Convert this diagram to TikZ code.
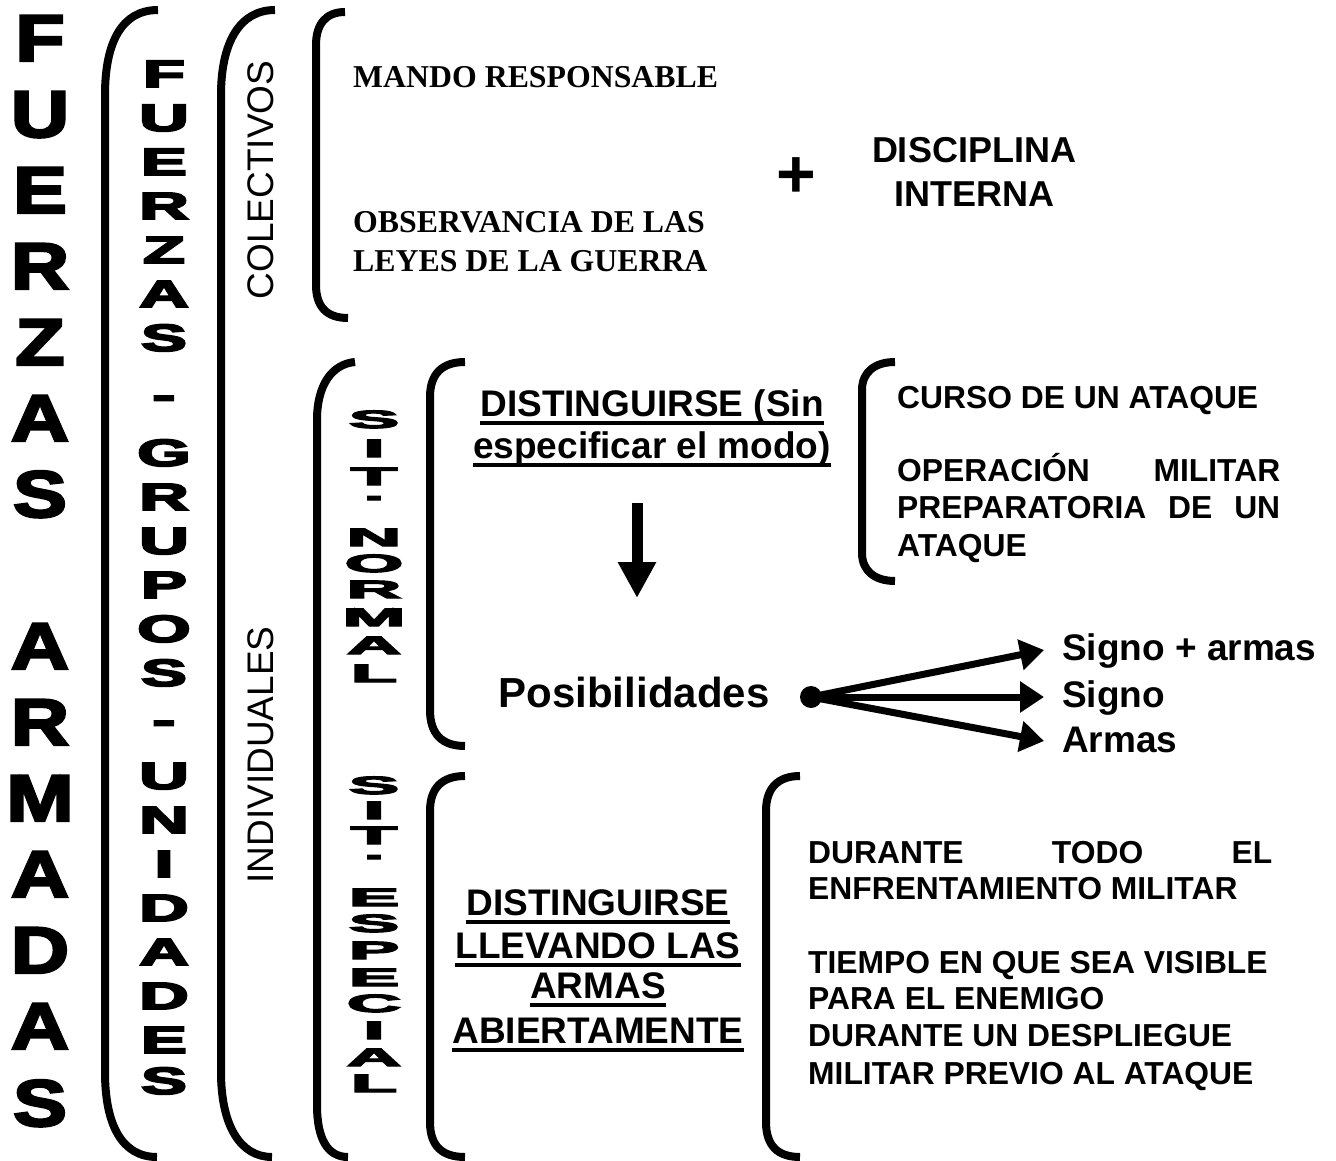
\documentclass[tikz,border=0pt]{standalone}
\usepackage{fontspec}
\setmainfont{Liberation Sans}
\newfontfamily\serifb{Liberation Serif}
\newfontfamily\heavy[FakeBold=4.5]{Liberation Sans}
\newfontfamily\heavyA[FakeBold=3.5]{Liberation Sans}
\usetikzlibrary{arrows.meta}
\newcommand\stretchL[2]{\scalebox{#1}[1]{#2}}
% T with its period set under it, in one box
\newcommand\Tdot{\ooalign{T\cr\hidewidth\smash{\raisebox{-15pt}{.}}\hidewidth\cr}}
\begin{document}
\begin{tikzpicture}[x=1pt,y=-1pt,
  brk/.style={line width=8pt},
  bigL/.style={inner sep=0pt, anchor=base, font=\heavyA\bfseries\fontsize{66}{66}\selectfont},
  midL/.style={inner sep=0pt, anchor=base, font=\heavy\bfseries\fontsize{38}{38}\selectfont},
  sitL/.style={inner sep=0pt, anchor=base, font=\heavy\bfseries\fontsize{25}{25}\selectfont},
  rot/.style={inner sep=0pt, rotate=90, font=\fontsize{37}{37}\selectfont},
  serif/.style={inner sep=0pt, anchor=base west, font=\serifb\bfseries\fontsize{31.8}{31.8}\selectfont},
  body/.style={inner sep=0pt, anchor=base west, font=\bfseries\fontsize{31.8}{31.8}\selectfont},
  big/.style={inner sep=0pt, anchor=base, font=\bfseries\fontsize{37}{37}\selectfont},
  ulin/.style={line width=4pt},
  fan/.style={line width=7pt, -{Triangle[length=24pt,width=30pt]}}
]
\path[use as bounding box, fill=white] (0,0) rectangle (1336,1161);

% brackets
\draw[brk] (158,10) .. controls (122,10) and (105,42) .. (105,95) -- (105,1072) .. controls (105,1125) and (122,1157) .. (157,1157);
\draw[brk] (275,10) .. controls (240,10) and (221,42) .. (221,95) -- (221,1072) .. controls (221,1125) and (240,1157) .. (272,1157);
\draw[brk] (345,12) .. controls (326,12) and (316,24) .. (316,45) -- (316,285) .. controls (316,306) and (326,318) .. (348,318);
\draw[brk] (355,362) .. controls (332,364) and (317,385) .. (317,420) -- (317,1105) .. controls (317,1138) and (327,1157) .. (348,1157);
\draw[brk] (465,362) .. controls (442,362) and (430,374) .. (430,397) -- (430,710) .. controls (430,734) and (442,746) .. (465,746);
\draw[brk] (465,776) .. controls (442,776) and (430,788) .. (430,811) -- (430,1122) .. controls (430,1146) and (442,1157) .. (465,1157);
\draw[brk] (895,362) .. controls (875,362) and (862,372) .. (862,390) -- (862,553) .. controls (862,571) and (875,581) .. (895,581);
\draw[brk] (800,776) .. controls (778,776) and (766,788) .. (766,811) -- (766,1122) .. controls (766,1146) and (778,1157) .. (800,1157);

% big column (baselines)
\foreach \c/\y [count=\i] in {F/61,U/137,E/213,R/289,Z/365,A/441,S/517,A/669,R/745,M/821,A/897,D/973,A/1049,S/1126}
  \node[bigL] (big\i) at (40,\y) {\stretchL{1.22}{\c}};

% second column
\foreach \c/\y [count=\i] in {F/87,U/131,E/175,R/219,Z/263,A/307,S/351,-/408,G/466,R/510,U/554,P/598,O/642,S/686,-/733,U/789,N/833,I/877,D/921,A/965,D/1009,E/1053,S/1094}
  \node[midL] (mid\i) at (164,\y) {\stretchL{1.8}{\c}};

% SIT. NORMAL
\foreach \c/\y [count=\i] in {S/428,I/457,\Tdot/485,N/546,O/572,R/598,M/626,A/654,L/682}
  \node[sitL] (sn\i) at (374,\y) {\stretchL{3}{\c}};
% SIT. ESPECIAL
\foreach \c/\y [count=\i] in {S/794,I/819,\Tdot/844,E/906,S/932,P/959,E/986,C/1012,I/1039,A/1066,L/1092}
  \node[sitL] (se\i) at (374,\y) {\stretchL{3}{\c}};

% rotated labels
\node[rot] (colect) at (261,180) {COLECTIVOS};
\node[rot] (indiv) at (261,755) {INDIVIDUALES};

% colectivos content
\node[serif] (mando) at (353,88) {MANDO RESPONSABLE};
\node[serif] (obs1) at (353,233) {OBSERVANCIA DE LAS};
\node[serif] (obs2) at (353,271) {LEYES DE LA GUERRA};
\node[inner sep=0pt, font=\bfseries\fontsize{68}{68}\selectfont] (plus) at (796,178) {+};
\node[big, font=\bfseries\fontsize{36}{36}\selectfont] (disc1) at (974,163) {DISCIPLINA};
\node[big, font=\bfseries\fontsize{36}{36}\selectfont] (disc2) at (974,207) {INTERNA};

% situacion normal
\node[big] (d1) at (652,416) {DISTINGUIRSE (Sin};
\node[big] (d2) at (652,458) {especificar el modo)};
\draw[ulin] ([yshift=-7pt]d1.base west) -- ([yshift=-7pt]d1.base east);
\draw[ulin] ([yshift=-7pt]d2.base west) -- ([yshift=-7pt]d2.base east);
\coordinate (arS) at (637,503);
\coordinate (arE) at (637,598);
\draw[line width=11pt, -{Triangle[length=36pt,width=36pt]}] (arS) -- (arE);
\node[big, font=\bfseries\fontsize{42}{42}\selectfont] (posib) at (634,707) {Posibilidades};
\node[circle, fill, inner sep=0pt, minimum size=22pt] (dot) at (811,697) {};
\coordinate (t1) at (1044,650);
\coordinate (t2) at (1044,697);
\coordinate (t3) at (1044,741);
\draw[fan] (dot.center) -- (t1);
\draw[fan] (dot.center) -- (t2);
\draw[fan] (dot.center) -- (t3);
\node[big, anchor=base west] (s1) at (1062,660) {Signo + armas};
\node[big, anchor=base west] (s2) at (1062,707) {Signo};
\node[big, anchor=base west] (s3) at (1062,752) {Armas};

\node[body] (c1) at (897,408) {CURSO DE UN ATAQUE};
\node[body] (c2) at (897,481) {\makebox[383pt][s]{OPERACIÓN MILITAR}};
\node[body] (c3) at (897,518) {\makebox[383pt][s]{PREPARATORIA DE UN}};
\node[body] (c4) at (897,556) {ATAQUE};

% situacion especial
\node[big] (l1) at (598,915) {DISTINGUIRSE};
\node[big] (l2) at (598,958) {LLEVANDO LAS};
\node[big] (l3) at (598,998) {ARMAS};
\node[big] (l4) at (598,1043) {ABIERTAMENTE};
\foreach \n in {l1,l2,l3,l4}
  \draw[ulin] ([yshift=-7pt]\n.base west) -- ([yshift=-7pt]\n.base east);

\node[body] (e1) at (808,863) {\makebox[464pt][s]{DURANTE TODO EL}};
\node[body] (e2) at (808,899) {ENFRENTAMIENTO MILITAR};
\node[body] (e3) at (808,973) {TIEMPO EN QUE SEA VISIBLE};
\node[body] (e4) at (808,1009) {PARA EL ENEMIGO};
\node[body] (e5) at (808,1046) {DURANTE UN DESPLIEGUE};
\node[body] (e6) at (808,1084) {MILITAR PREVIO AL ATAQUE};
\end{tikzpicture}
\end{document}
